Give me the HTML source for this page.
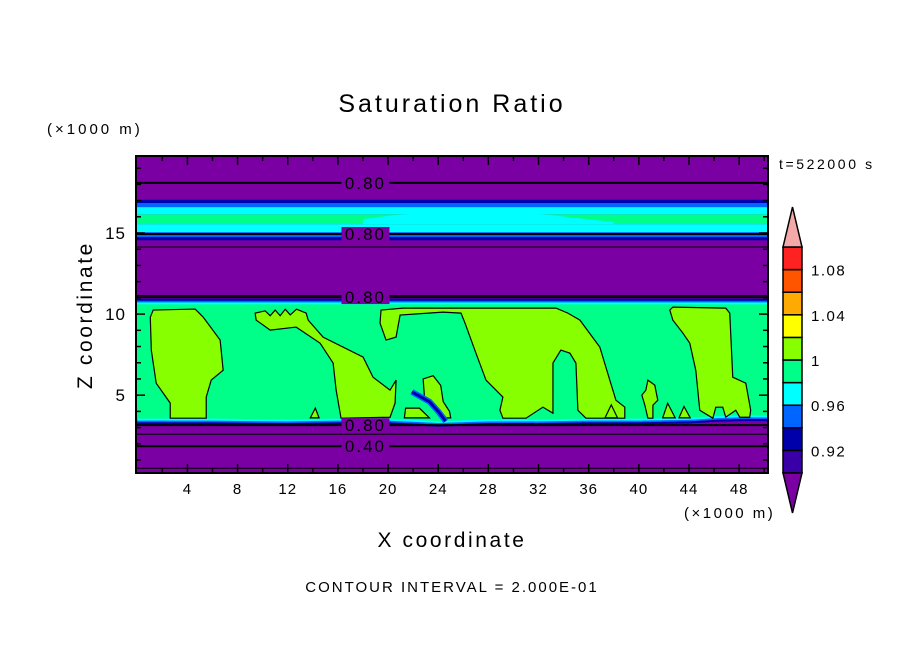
<!DOCTYPE html>
<html><head><meta charset="utf-8"><style>
html,body{margin:0;padding:0;background:#fff;}
svg{display:block;font-family:"Liberation Sans",sans-serif;}
</style></head><body>
<svg id="chart" width="904" height="654" viewBox="0 0 904 654" xmlns="http://www.w3.org/2000/svg">
<text x="452" y="112" font-size="25" letter-spacing="3" text-anchor="middle">Saturation Ratio</text>
<text x="47" y="134" font-size="15" letter-spacing="3">(×1000 m)</text>
<text x="779" y="169" font-size="14" letter-spacing="2.6">t=522000 s</text>
<text x="452" y="547" font-size="21" letter-spacing="2.6" text-anchor="middle">X coordinate</text>
<text x="0" y="0" font-size="21" letter-spacing="2.6" text-anchor="middle" transform="translate(92,315) rotate(-90)">Z coordinate</text>
<text x="684" y="518" font-size="15" letter-spacing="2.5">(×1000 m)</text>
<text x="452" y="592" font-size="15" letter-spacing="2" text-anchor="middle">CONTOUR INTERVAL = 2.000E-01</text>
<g id="plot"></g>
<g id="cbar"></g>
</svg>
<script>
// ---- data ----
const xDomain = [-0.1, 50.3];
const zDomain = [0.2, 19.75];
const xTicks = [4,8,12,16,20,24,28,32,36,40,44,48];
const zTicks = [5,10,15];
const levelColors = ['#7b00a3','#3a00a8','#0000aa','#0066ff','#00ffff','#00ff88','#88ff00','#ffff00','#ffaa00','#ff5500','#ff2222','#f4a8a8'];
const cbarLabels = ['0.92','0.96','1','1.04','1.08'];
// horizontal bands: [zBottom, zTop, colorIndex]
const bandBottoms = [14.55, 14.75, 15.05, 15.55, 16.15, 16.6, 16.85];
const bandTops    = [14.75, 15.05, 15.55, 16.15, 16.6, 16.85, 17.05];
const bandLevels  = [2, 3, 4, 5, 4, 3, 2];
// moist layer
const layerTop = 10.6;
const layerBaseX = [0, 6, 12, 16, 20, 24, 28, 32, 36, 40, 44, 46, 48, 50.3];
const layerBaseZ = [3.55, 3.55, 3.5, 3.55, 3.55, 3.4, 3.5, 3.5, 3.55, 3.55, 3.6, 3.7, 3.75, 3.75];
// supersat (>=1) blobs, [x,z] in km
const blobs = [
 [[1.04,9.81],[1.27,10.25],[4.62,10.31],[5.26,9.81],[6.61,8.4],[6.85,6.54],[5.9,5.93],[5.5,4.88],[5.5,3.58],[2.63,3.58],[2.63,4.51],[1.51,5.74],[1.12,7.78]],
 [[9.4,10.06],[10.2,10.2],[10.6,9.9],[11.0,10.25],[11.4,9.9],[11.8,10.3],[12.2,9.95],[12.7,10.3],[13.47,10.06],[13.63,9.63],[14.82,8.58],[18.01,7.35],[18.8,6.11],[20.16,5.31],[20.64,5.93],[20.56,4.51],[20.16,3.64],[16.25,3.58],[15.86,5.31],[15.62,6.98],[14.58,8.21],[12.67,9.2],[10.6,9.01],[9.48,9.63]],
 [[19.44,10.25],[19.36,9.44],[19.84,8.4],[20.64,8.58],[20.96,9.94],[24.38,10.12],[25.82,10.06],[26.14,9.44],[27.01,7.59],[27.81,5.93],[29.16,4.88],[28.92,4.07],[29.16,3.58],[31.0,3.58],[32.35,4.26],[33.15,3.89],[33.15,6.98],[33.78,7.78],[34.5,7.59],[34.98,6.98],[35.14,4.07],[35.78,3.58],[38.88,3.58],[38.88,4.26],[38.17,4.69],[37.37,6.73],[36.89,7.96],[35.3,9.63],[34.34,10.06],[33.39,10.37],[21.2,10.37]],
 [[42.47,10.25],[42.71,10.43],[46.93,10.37],[47.25,10.06],[47.49,6.11],[48.53,5.74],[48.92,4.07],[48.84,3.64],[48.05,3.64],[47.73,4.07],[46.93,3.64],[46.69,4.26],[46.14,4.26],[45.9,3.58],[44.86,4.07],[44.54,6.54],[44.06,8.21],[43.51,8.83],[42.71,9.63]],
 [[40.72,5.93],[41.27,5.62],[41.51,4.69],[41.12,4.38],[41.12,3.58],[40.72,3.58],[40.48,4.38],[40.24,5.0],[40.56,5.31]],
 [[37.3,3.6],[37.8,4.4],[38.3,3.6]],
 [[41.9,3.6],[42.3,4.5],[42.9,3.6]],
 [[43.2,3.6],[43.6,4.3],[44.1,3.6]],
 [[13.8,3.6],[14.2,4.2],[14.5,3.6]],
 [[22.8,6.0],[23.6,6.2],[24.2,5.6],[24.4,4.6],[24.9,4.0],[25.0,3.6],[24.3,3.6],[23.5,4.4],[22.9,4.9]],
 [[21.3,3.6],[21.4,4.2],[22.5,4.2],[23.3,3.6]]
];
const streakX = [21.9, 22.6, 23.3, 24.0, 24.6];
const streakZ = [5.2, 4.9, 4.6, 4.0, 3.4];
// contour lines
const lineZ = [18.09, 14.94, 14.14, 11.15, 11.05, 3.15, 2.59, 1.85, 0.49];
const lineW = [2, 2, 1, 1, 2, 2, 1, 2, 1];
const lineLabel = ['0.80','0.80','','','0.80','0.80','','0.40',''];
// ---- scales ----
const L=136,R=768,T=156,B=473;
const X=x=>L+(x-xDomain[0])/(xDomain[1]-xDomain[0])*(R-L);
const Z=z=>B-(z-zDomain[0])/(zDomain[1]-zDomain[0])*(B-T);
const NS='http://www.w3.org/2000/svg';
function mk(tag,attrs,parent){const e=document.createElementNS(NS,tag);for(const k in attrs)e.setAttribute(k,attrs[k]);parent.appendChild(e);return e;}
const plot=document.getElementById('plot');
const cp=mk('clipPath',{id:'clip'},plot);mk('rect',{x:L,y:T,width:R-L,height:B-T},cp);
const g=mk('g',{'clip-path':'url(#clip)'},plot);
let bg=mk('rect',{x:L,y:T,width:R-L,height:B-T,fill:levelColors[0]},g);


bandBottoms.forEach((b,i)=>{
  const r=mk('rect',{x:L,y:Z(bandTops[i]),width:R-L,height:Z(b)-Z(bandTops[i]),fill:levelColors[bandLevels[i]]},g);
  
  
});
// cyan region in middle of upper green band
let lens=mk('path',{d:`M${X(18)},${Z(15.85)} C${X(21)},${Z(16.2)} ${X(22)},${Z(16.2)} ${X(24)},${Z(16.2)} L${X(31)},${Z(16.2)} C${X(33)},${Z(16.2)} ${X(34)},${Z(15.95)} ${X(38)},${Z(15.7)} L${X(38)},${Z(15.55)} L${X(18)},${Z(15.55)} Z`,fill:levelColors[4]},g);


// moist layer
function layerPath(off){let d=`M${X(xDomain[0])},${Z(layerTop+off)}L${X(xDomain[1])},${Z(layerTop+off)}`;
  for(let i=layerBaseX.length-1;i>=0;i--)d+=`L${X(layerBaseX[i])},${Z(layerBaseZ[i]-off)}`;return d+'Z';}
[[0.35,2],[0.22,3],[0.12,4],[0,5]].forEach(([o,c])=>{
  const p=mk('path',{d:layerPath(o),fill:levelColors[c]},g);
  
  
});
blobs.forEach(b=>{
  const p=mk('path',{d:'M'+b.map(q=>X(q[0])+','+Z(q[1])).join('L')+'Z',fill:levelColors[6],stroke:'#000','stroke-width':1.2},g);
  
  
});
let st=mk('path',{d:'M'+streakX.map((x,i)=>X(x)+','+Z(streakZ[i])).join('L'),fill:'none',stroke:levelColors[3],'stroke-width':6},g);


let st2=mk('path',{d:'M'+streakX.map((x,i)=>X(x)+','+Z(streakZ[i])).join('L'),fill:'none',stroke:levelColors[2],'stroke-width':3},g);


lineZ.forEach((z,i)=>{
  const l=mk('line',{x1:L,x2:R,y1:Z(z),y2:Z(z),stroke:'#000','stroke-width':lineW[i]},g);
  
  
  if(lineLabel[i]){
    const cx=X(18.2);
    const r=mk('rect',{x:cx-24,y:Z(z)-7,width:48,height:14,fill:levelColors[0]},g);
    
    
    const t=mk('text',{x:cx,y:Z(z)+6,'font-size':17,'letter-spacing':2,'text-anchor':'middle',fill:'#000'},g);
    t.textContent=lineLabel[i];
    
    
  }
});
let fr=mk('rect',{x:L,y:T,width:R-L,height:B-T,fill:'none',stroke:'#000','stroke-width':2},plot);


// ticks
for(let x=2;x<=50;x+=2){const big=x%4===0,len=big?9:5;
  [[B,-1],[T,1]].forEach(([y0,s])=>{const t=mk('line',{x1:X(x),x2:X(x),y1:y0,y2:y0+s*len,stroke:'#000','stroke-width':1.5},plot);
  
  });}
for(let z=1;z<=19;z++){const big=z%5===0,len=big?9:5;
  [[L,1],[R,-1]].forEach(([x0,s])=>{const t=mk('line',{x1:x0,x2:x0+s*len,y1:Z(z),y2:Z(z),stroke:'#000','stroke-width':1.5},plot);
  
  });}
xTicks.forEach(v=>{const t=mk('text',{x:X(v),y:494,'font-size':15,'letter-spacing':1,'text-anchor':'middle'},plot);t.textContent=v;
  
  });
zTicks.forEach(v=>{const t=mk('text',{x:126,y:Z(v)+6,'font-size':17,'letter-spacing':1,'text-anchor':'end'},plot);t.textContent=v;
  
  });
// colorbar
const cb=document.getElementById('cbar');
const cL=783,cR=802,cT=247,cB=473,n=levelColors.length-2,h=(cB-cT)/n;
for(let i=1;i<=n;i++){const y=cB-i*h;
  const r=mk('rect',{x:cL,y:y,width:cR-cL,height:h,fill:levelColors[i],stroke:'#000','stroke-width':1.5},cb);
  
  }
let up=mk('path',{d:`M${cL},${cT}L${(cL+cR)/2},207L${cR},${cT}Z`,fill:levelColors[n+1],stroke:'#000','stroke-width':1.5},cb);


let dn=mk('path',{d:`M${cL},${cB}L${(cL+cR)/2},513L${cR},${cB}Z`,fill:levelColors[0],stroke:'#000','stroke-width':1.5},cb);


cbarLabels.forEach((s,i)=>{const y=cB-h*(1+2*i);
  const t=mk('text',{x:811,y:y+6,'font-size':15,'letter-spacing':1.5},cb);t.textContent=s;
  
  });
</script>
</body></html>
